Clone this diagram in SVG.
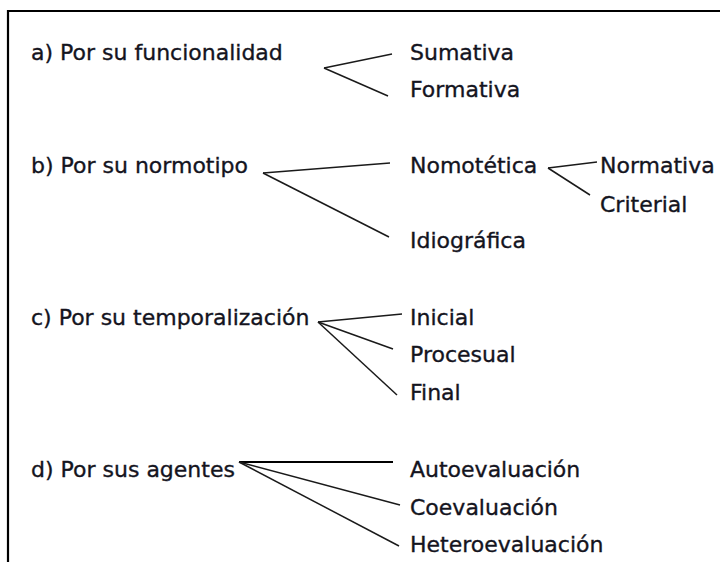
<svg xmlns="http://www.w3.org/2000/svg" width="720" height="562" viewBox="0 0 720 562">
<style>
text{font-family:"DejaVu Sans","Liberation Sans",sans-serif;font-size:22px;fill:#14141e;stroke:#14141e;stroke-width:0.35}
.c line{stroke:#1a1a1a;stroke-width:1.5;fill:none}
.frame{stroke:#000;stroke-width:2.2;fill:none}
</style>
<rect width="720" height="562" fill="#fff"/>
<path class="frame" d="M8 562 V11 H720"/>
<g id="a"><text x="31" y="60">a) Por su funcionalidad</text></g>
<g id="sumativa"><text x="410" y="60">Sumativa</text></g>
<g id="formativa"><text x="410" y="97">Formativa</text></g>
<g id="b"><text x="31" y="173">b) Por su normotipo</text></g>
<g id="nomotetica"><text x="410" y="173">Nomotética</text></g>
<g id="idiografica"><text x="410" y="248">Idiográfica</text></g>
<g id="normativa"><text x="600" y="173">Normativa</text></g>
<g id="criterial"><text x="600" y="212">Criterial</text></g>
<g id="c"><text x="31" y="325">c) Por su temporalización</text></g>
<g id="inicial"><text x="410" y="325">Inicial</text></g>
<g id="procesual"><text x="410" y="362">Procesual</text></g>
<g id="final"><text x="410" y="400">Final</text></g>
<g id="d"><text x="31" y="477">d) Por sus agentes</text></g>
<g id="auto"><text x="410" y="477">Autoevaluación</text></g>
<g id="coev"><text x="410" y="515">Coevaluación</text></g>
<g id="hetero"><text x="410" y="552">Heteroevaluación</text></g>
<g id="connectors" class="c">
<line x1="324" y1="68" x2="392" y2="54"/>
<line x1="324" y1="68" x2="388" y2="96"/>
<line x1="263" y1="173" x2="390" y2="163"/>
<line x1="263" y1="173" x2="389" y2="237"/>
<line x1="548" y1="168" x2="597" y2="162"/>
<line x1="548" y1="168" x2="590" y2="195"/>
<line x1="318" y1="322" x2="402" y2="314"/>
<line x1="318" y1="322" x2="393" y2="349"/>
<line x1="318" y1="322" x2="397" y2="395"/>
<line x1="239" y1="462" x2="393" y2="462" style="stroke-width:2.2;stroke:#000"/>
<line x1="239" y1="462" x2="400" y2="505"/>
<line x1="239" y1="462" x2="399" y2="546"/>
</g>
</svg>
